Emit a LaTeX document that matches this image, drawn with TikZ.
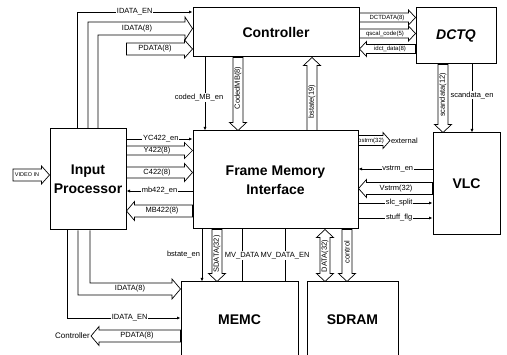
\documentclass[tikz,border=0pt]{standalone}
\usepackage{fontspec}
\setmainfont{Liberation Sans}
\usetikzlibrary{calc,arrows.meta}
\tikzset{
  bw/.store in=\busw, bw=5,
  hw/.store in=\bushw, hw=8.5,
  hl/.store in=\bushl, hl=8,
  bus/.style={draw, line width=0.7pt, line join=miter, to path={
    let \p1=(\tikztostart), \p2=(\tikztotarget),
        \n1={veclen(\x2-\x1,\y2-\y1)},
        \n2={(\x2-\x1)/\n1}, \n3={(\y2-\y1)/\n1}
    in
    ({\x1-\n3*\busw*1pt},{\y1+\n2*\busw*1pt})
    -- ({\x2-\n2*\bushl*1pt-\n3*\busw*1pt},{\y2-\n3*\bushl*1pt+\n2*\busw*1pt})
    -- ({\x2-\n2*\bushl*1pt-\n3*\bushw*1pt},{\y2-\n3*\bushl*1pt+\n2*\bushw*1pt})
    -- (\p2)
    -- ({\x2-\n2*\bushl*1pt+\n3*\bushw*1pt},{\y2-\n3*\bushl*1pt-\n2*\bushw*1pt})
    -- ({\x2-\n2*\bushl*1pt+\n3*\busw*1pt},{\y2-\n3*\bushl*1pt-\n2*\busw*1pt})
    -- ({\x1+\n3*\busw*1pt},{\y1-\n2*\busw*1pt}) -- cycle
  }},
  bustwo/.style={draw, line width=0.7pt, line join=miter, to path={
    let \p1=(\tikztostart), \p2=(\tikztotarget),
        \n1={veclen(\x2-\x1,\y2-\y1)},
        \n2={(\x2-\x1)/\n1}, \n3={(\y2-\y1)/\n1}
    in
    (\p1)
    -- ({\x1+\n2*\bushl*1pt-\n3*\bushw*1pt},{\y1+\n3*\bushl*1pt+\n2*\bushw*1pt})
    -- ({\x1+\n2*\bushl*1pt-\n3*\busw*1pt},{\y1+\n3*\bushl*1pt+\n2*\busw*1pt})
    -- ({\x2-\n2*\bushl*1pt-\n3*\busw*1pt},{\y2-\n3*\bushl*1pt+\n2*\busw*1pt})
    -- ({\x2-\n2*\bushl*1pt-\n3*\bushw*1pt},{\y2-\n3*\bushl*1pt+\n2*\bushw*1pt})
    -- (\p2)
    -- ({\x2-\n2*\bushl*1pt+\n3*\bushw*1pt},{\y2-\n3*\bushl*1pt-\n2*\bushw*1pt})
    -- ({\x2-\n2*\bushl*1pt+\n3*\busw*1pt},{\y2-\n3*\bushl*1pt-\n2*\busw*1pt})
    -- ({\x1+\n2*\bushl*1pt+\n3*\busw*1pt},{\y1+\n3*\bushl*1pt-\n2*\busw*1pt})
    -- ({\x1+\n2*\bushl*1pt+\n3*\bushw*1pt},{\y1+\n3*\bushl*1pt-\n2*\bushw*1pt})
    -- cycle
  }},
}
\begin{document}
\begin{tikzpicture}[x=1pt,y=-1pt,
  blk/.style={draw, line width=1pt, inner sep=0pt, align=center,
    font=\fontsize{14}{19}\selectfont\bfseries},
  sig/.style={line width=0.7pt, -{Latex[length=3.5pt,width=3pt]}},
  pl/.style={line width=0.7pt},
  lbl/.style={font=\fontsize{7.5}{8}\selectfont, inner sep=0.8pt},
  sl/.style={font=\fontsize{6}{7}\selectfont, inner sep=0.5pt},
  wl/.style={lbl, fill=white},
  vl/.style={font=\fontsize{7.5}{8}\selectfont, inner sep=0pt, rotate=90},
]
\useasboundingbox (0,0) rectangle (507,355);

% blocks
\node[blk, minimum width=166pt, minimum height=49pt] (ctrl) at (276,32.5) {Controller};
\node[blk, minimum width=80pt, minimum height=56pt, font=\fontsize{14}{19}\selectfont\bfseries\itshape] (dctq) at (456,36) {DCTQ};
\node[blk, minimum width=76pt, minimum height=101pt] (ip) at (88,179.5) {Input\\Processor};
\node[blk, minimum width=165pt, minimum height=98pt] (fmi) at (275.5,180) {Frame Memory\\Interface};
\node[blk, minimum width=67pt, minimum height=102pt] (vlc) at (466.5,184) {VLC};
\node[blk, minimum width=117pt, minimum height=74.5pt] (memc) at (239.5,319.25) {MEMC};
\node[blk, minimum width=91pt, minimum height=74.5pt] (sdram) at (352.5,319.25) {SDRAM};
\node[lbl, anchor=west] (ext) at (390,140.5) {external};
\node[font=\fontsize{8}{9}\selectfont, inner sep=1pt, anchor=east] (ctlref) at (91,336) {Controller};

% Input Processor -> Controller
\draw[sig] (ip.north -| 77,0) |- node[wl, pos=0.75] (lidaen) {IDATA\_EN} (ctrl.west |- 0,12);
\draw[pl] (ip.north -| 88,0) |- (185,22) -- (185,17) -- (ctrl.west |- 0,28.5)
  -- (185,40) -- (185,35) -| (ip.north -| 98,0);
\node[lbl] (lidat) at (137,28.5) {IDATA(8)};
\draw[bus, bw=6, hw=9] (ip.east |- 0,49) to (ctrl.west |- 0,49);
\node[lbl] (lpdat) at (155,49) {PDATA(8)};

% Controller <-> DCTQ
\draw[bus, bw=4.5, hw=7.5, hl=7] (ctrl.east |- 0,17.5) to (dctq.west |- 0,17.5);
\node[sl] (ldctd) at (387,17.5) {DCTDATA(8)};
\draw[bus, bw=4.5, hw=7.5, hl=7] (ctrl.east |- 0,33.5) to (dctq.west |- 0,33.5);
\node[sl] (lqsc) at (385,33.5) {qscal\_code(5)};
\draw[bus, bw=4.5, hw=7.5, hl=7] (dctq.west |- 0,49) to (ctrl.east |- 0,49);
\node[sl] (lidct) at (390,49) {idct\_data(8)};

% Controller <-> FMI
\draw[sig] (ctrl.south -| 205,0) -- node[wl, pos=0.55, xshift=-6pt] (lcmben) {coded\_MB\_en} (fmi.north -| 205,0);
\draw[bus] (ctrl.south -| 238,0) to (fmi.north -| 238,0);
\node[vl] (lcmb) at (238,88) {CodedMB(8)};
\draw[bus] (fmi.north -| 312,0) to (ctrl.south -| 312,0);
\node[vl] (lbst) at (312,102) {bstate(19)};

% DCTQ -> VLC
\draw[bus] (dctq.south -| 443,0) to (vlc.north -| 443,0);
\node[vl] (lscd) at (443,95) {scandata(12)};
\draw[sig] (dctq.south -| 472,0) -- node[wl, pos=0.45] (lscen) {scandata\_en} (vlc.north -| 472,0);

% Video in
\draw[bus, bw=6, hw=9] (13,175) to (ip.west |- 0,175);
\node[font=\fontsize{5.5}{6}\selectfont, inner sep=0pt] (lvid) at (27,175) {VIDEO IN};

% IP <-> FMI
\draw[sig] (ip.east |- 0,139) -- node[wl, pos=0.52] (lyc) {YC422\_en} (fmi.west |- 0,139);
\draw[bus, bw=4.5, hw=8] (ip.east |- 0,150.5) to (fmi.west |- 0,150.5);
\node[lbl] (ly) at (157,150.5) {Y422(8)};
\draw[bus, bw=5.5, hw=9] (ip.east |- 0,172.5) to (fmi.west |- 0,172.5);
\node[lbl] (lc) at (157,172.5) {C422(8)};
\draw[sig] (fmi.west |- 0,191) -- node[wl, pos=0.5] (lmben) {mb422\_en} (ip.east |- 0,191);
\draw[bus, bw=6, hw=9.5] (fmi.west |- 0,211) to (ip.east |- 0,211);
\node[lbl] (lmb) at (162,211) {MB422(8)};

% FMI <-> VLC
\draw[bus, bw=5, hw=8, hl=7] (fmi.east |- 0,140.5) to (ext.west);
\node[sl] (lost) at (371,140.5) {ostrm(32)};
\draw[sig] (vlc.west |- 0,169) -- node[wl, pos=0.47] (lvsen) {vstrm\_en} (fmi.east |- 0,169);
\draw[bus, bw=6, hw=9] (vlc.west |- 0,188.5) to (fmi.east |- 0,188.5);
\node[lbl] (lvs) at (396,188.5) {Vstrm(32)};
\draw[sig] (fmi.east |- 0,203) -- node[wl, pos=0.55] (lslc) {slc\_split} (vlc.west |- 0,203);
\draw[sig] (fmi.east |- 0,218) -- node[wl, pos=0.55] (lstf) {stuff\_flg} (vlc.west |- 0,218);

% FMI -> MEMC / SDRAM
\draw[sig] (fmi.south -| 202,0) -- (memc.north -| 202,0);
\node[lbl, anchor=east] (lbsen) at (201,255) {bstate\_en};
\draw[bus] (fmi.south -| 217,0) to (memc.north -| 217,0);
\node[vl] (lsd) at (217,254) {SDATA(32)};
\draw[pl] (fmi.south -| 242,0) -- node[wl, pos=0.5] (lmvd) {MV\_DATA} (memc.north -| 242,0);
\draw[pl] (fmi.south -| 285,0) -- node[wl, pos=0.5] (lmvde) {MV\_DATA\_EN} (memc.north -| 285,0);
\draw[bustwo] (fmi.south -| 325,0) to (sdram.north -| 325,0);
\node[vl] (ldat) at (325,256) {DATA(32)};
\draw[bus] (fmi.south -| 347,0) to (sdram.north -| 347,0);
\node[vl] (lctl) at (347,252) {control};

% IP <-> MEMC
\draw[pl] (ip.south -| 90,0) |- (172,283) -- (172,279) -- (memc.west |- 0,289)
  -- (172,299) -- (172,295) -| (ip.south -| 78,0);
\node[lbl] (lidat2) at (130,289) {IDATA(8)};
\draw[sig] (ip.south -| 67,0) |- node[wl, pos=0.776] (lidaen2) {IDATA\_EN} (memc.west |- 0,318);
\draw[bus, bw=6, hw=9.5] (memc.west |- 0,336) to (ctlref.east);
\node[lbl] (lpdat2) at (137,336) {PDATA(8)};
\end{tikzpicture}
\end{document}
